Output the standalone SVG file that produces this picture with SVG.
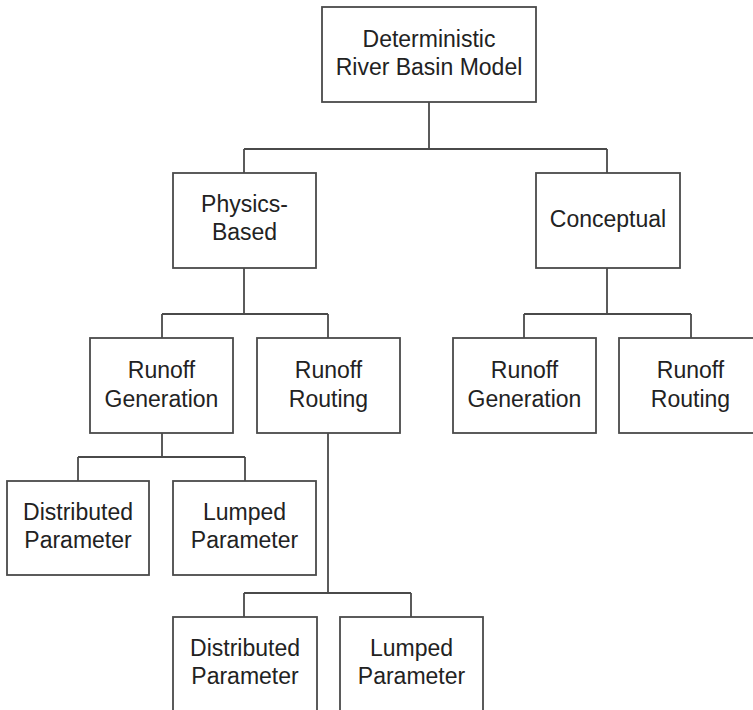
<svg xmlns="http://www.w3.org/2000/svg" width="753" height="710" viewBox="0 0 753 710">
<style>
.box{fill:#fff;stroke:#4a4a4a;stroke-width:1.8}
.ln{fill:none;stroke:#4a4a4a;stroke-width:1.8}
text{font-family:"Liberation Sans",Arial,sans-serif;font-size:23px;fill:#222;text-anchor:middle}
</style>
<rect width="753" height="710" fill="#fff"/>
<g id="connectors">
<path class="ln" d="M429 102V149M244 149H607M244 149V173M607 149V173"/>
<path class="ln" d="M244 268V314M162 314H328M162 314V338M328 314V338"/>
<path class="ln" d="M607 268V314M524 314H691M524 314V338M691 314V338"/>
<path class="ln" d="M162 433V457M78 457H245M78 457V481M245 457V481"/>
<path class="ln" d="M328 433V593M244 593H411M244 593V617M411 593V617"/>
</g>
<g id="root"><rect class="box" x="322" y="7" width="214" height="95"/><text x="429" y="47">Deterministic</text><text x="429" y="75">River Basin Model</text></g>
<g id="physics"><rect class="box" x="173" y="173" width="143" height="95"/><text x="244.5" y="212">Physics-</text><text x="244.5" y="240">Based</text></g>
<g id="conceptual"><rect class="box" x="536" y="173" width="144" height="95"/><text x="608" y="227">Conceptual</text></g>
<g id="pb-generation"><rect class="box" x="90" y="338" width="143" height="95"/><text x="161.5" y="378">Runoff</text><text x="161.5" y="407">Generation</text></g>
<g id="pb-routing"><rect class="box" x="257" y="338" width="143" height="95"/><text x="328.5" y="378">Runoff</text><text x="328.5" y="407">Routing</text></g>
<g id="c-generation"><rect class="box" x="453" y="338" width="143" height="95"/><text x="524.5" y="378">Runoff</text><text x="524.5" y="407">Generation</text></g>
<g id="c-routing"><rect class="box" x="619" y="338" width="146" height="95"/><text x="690.5" y="378">Runoff</text><text x="690.5" y="407">Routing</text></g>
<g id="gen-distributed"><rect class="box" x="7" y="481" width="142" height="94"/><text x="78" y="520">Distributed</text><text x="78" y="548">Parameter</text></g>
<g id="gen-lumped"><rect class="box" x="173" y="481" width="143" height="94"/><text x="244.5" y="520">Lumped</text><text x="244.5" y="548">Parameter</text></g>
<g id="rout-distributed"><rect class="box" x="173" y="617" width="144" height="110"/><text x="245" y="656">Distributed</text><text x="245" y="684">Parameter</text></g>
<g id="rout-lumped"><rect class="box" x="340" y="617" width="143" height="110"/><text x="411.5" y="656">Lumped</text><text x="411.5" y="684">Parameter</text></g>
</svg>
